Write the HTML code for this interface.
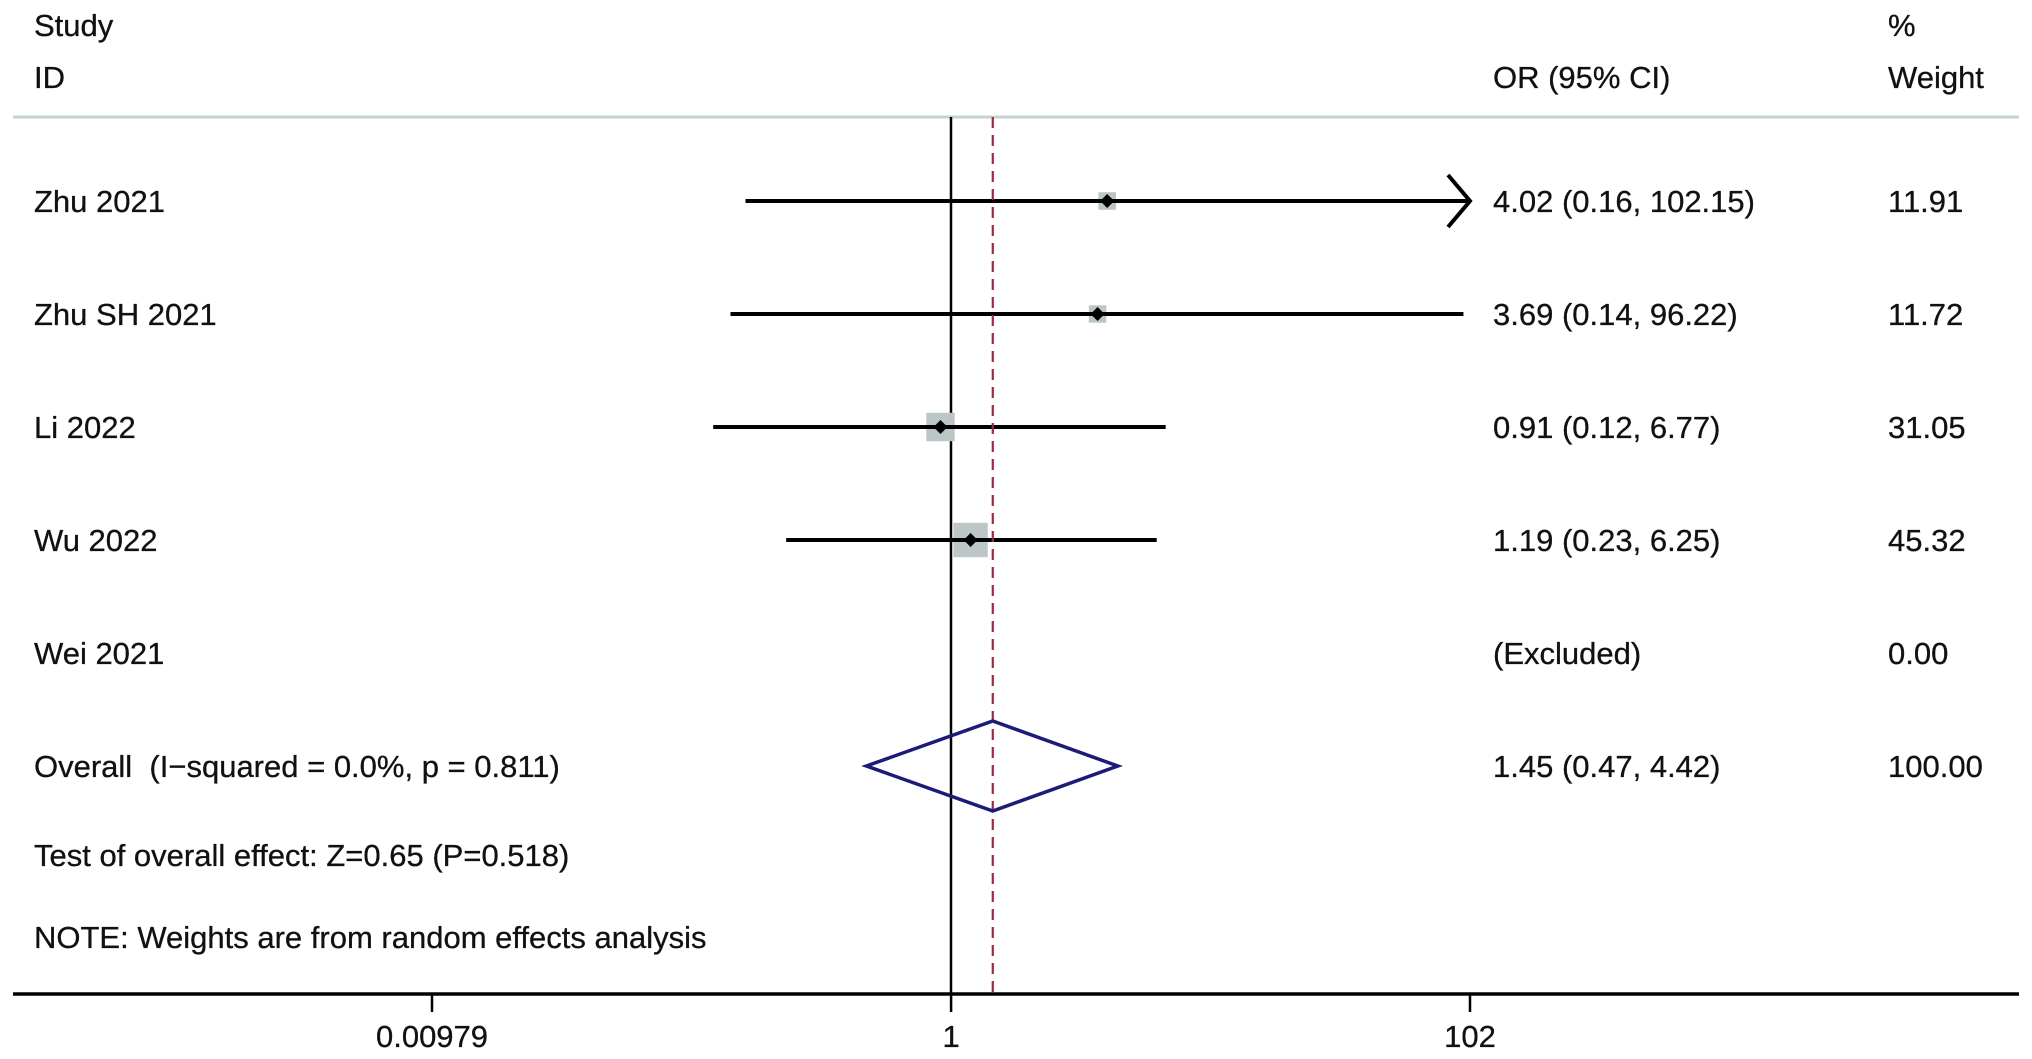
<!DOCTYPE html>
<html><head><meta charset="utf-8">
<style>
html,body{margin:0;padding:0;background:#fff;}
svg{display:block;}
text{font-family:"Liberation Sans",Arial,sans-serif;font-size:31px;fill:#111;white-space:pre;stroke:#111;stroke-width:0.3px;}
</style></head>
<body>
<svg id="chart" width="2032" height="1059" viewBox="0 0 2032 1059" xmlns="http://www.w3.org/2000/svg" xml:space="preserve">
  <text x="34" y="36">Study</text>
  <text x="34" y="88">ID</text>
  <text x="1493" y="88">OR (95% CI)</text>
  <text x="1888" y="36">%</text>
  <text x="1888" y="88">Weight</text>
  <line x1="13" y1="117" x2="2019" y2="117" stroke="#c5d3d3" stroke-width="3"/>
  <line x1="951" y1="117" x2="951" y2="994" stroke="#000" stroke-width="2.5"/>
  <g id="marks"></g>
  <text x="34" y="866">Test of overall effect: Z=0.65 (P=0.518)</text>
  <text x="34" y="948">NOTE: Weights are from random effects analysis</text>
  <line x1="13" y1="994" x2="2019" y2="994" stroke="#000" stroke-width="3.5"/>
  <g id="axis"></g>
</svg>
<script>
const studies = ["Zhu 2021","Zhu SH 2021","Li 2022","Wu 2022","Wei 2021"];
const orValues = [4.02, 3.69, 0.91, 1.19, null];
const ciLower = [0.16, 0.14, 0.12, 0.23, null];
const ciUpper = [102.15, 96.22, 6.77, 6.25, null];
const weights = [11.91, 11.72, 31.05, 45.32, 0.00];
const overall = [1.45, 0.47, 4.42];
const overallLabel = "Overall  (I\u2212squared = 0.0%, p = 0.811)";
const tickValues = [0.00979, 1, 102];
const tickLabels = ["0.00979", "1", "102"];

const NS = "http://www.w3.org/2000/svg";
const marks = document.getElementById('marks');
const axisG = document.getElementById('axis');
const xMin = 0.00979, xMax = 102;
const pxMin = 432, pxMax = 1470;
function xScale(v){ const c = Math.min(Math.max(v, xMin), xMax); return pxMin + (Math.log(c)-Math.log(xMin))/(Math.log(xMax)-Math.log(xMin))*(pxMax-pxMin); }
function rowY(i){ return 201 + i*113; }
function mk(tag, attrs, parent){ const e=document.createElementNS(NS,tag); for(const k in attrs) e.setAttribute(k, attrs[k]); parent.appendChild(e); return e; }
function fmt(v){ return v.toFixed(2); }

studies.forEach((s,i)=>{
  const y = rowY(i);
  const t = mk('text',{x:34,y:y+11},marks); t.textContent = s;
  
  
  const w = mk('text',{x:1888,y:y+11},marks); w.textContent = fmt(weights[i]);
  
  
  const o = mk('text',{x:1493,y:y+11},marks);
  
  
  if (orValues[i] === null) { o.textContent = "(Excluded)"; return; }
  o.textContent = fmt(orValues[i])+" ("+fmt(ciLower[i])+", "+fmt(ciUpper[i])+")";
  const sz = 5.1*Math.sqrt(weights[i]);
  const cx = xScale(orValues[i]);
  const box = mk('rect',{x:cx-sz/2,y:y-sz/2,width:sz,height:sz,fill:'#bcc6c6'},marks);
  
  
  const x1 = xScale(ciLower[i]), x2 = xScale(ciUpper[i]);
  const ln = mk('line',{x1:x1,y1:y,x2:x2,y2:y,stroke:'#000','stroke-width':4},marks);
  
  
  if (ciUpper[i] > xMax) {
    const ar = mk('polyline',{points:(x2-22)+","+(y-26)+" "+x2+","+y+" "+(x2-22)+","+(y+26),fill:'none',stroke:'#000','stroke-width':4},marks);
    
    
  }
  const d = 7;
  const pt = mk('polygon',{points:cx+","+(y-d)+" "+(cx+d)+","+y+" "+cx+","+(y+d)+" "+(cx-d)+","+y,fill:'#000'},marks);
  
  
});

const oy = rowY(5);
const ocx = xScale(overall[0]);
const dash = mk('line',{x1:ocx,y1:117,x2:ocx,y2:994,stroke:'#a0283c','stroke-width':2.2,'stroke-dasharray':'11,7'},marks);


const dia = mk('polygon',{points:xScale(overall[1])+","+oy+" "+ocx+","+(oy-45)+" "+xScale(overall[2])+","+oy+" "+ocx+","+(oy+45),fill:'none',stroke:'#1c1c78','stroke-width':3.5},marks);


const ol = mk('text',{x:34,y:oy+11},marks); ol.textContent = overallLabel;


const oo = mk('text',{x:1493,y:oy+11},marks); oo.textContent = fmt(overall[0])+" ("+fmt(overall[1])+", "+fmt(overall[2])+")";


const ow = mk('text',{x:1888,y:oy+11},marks); ow.textContent = "100.00";



tickValues.forEach((v,i)=>{
  const x = xScale(v);
  const tk = mk('line',{x1:x,y1:994,x2:x,y2:1012,stroke:'#000','stroke-width':2.5},axisG);
  
  
  const tl = mk('text',{x:x,y:1047,'text-anchor':'middle'},axisG); tl.textContent = tickLabels[i];
  
  
});
</script>
</body></html>
